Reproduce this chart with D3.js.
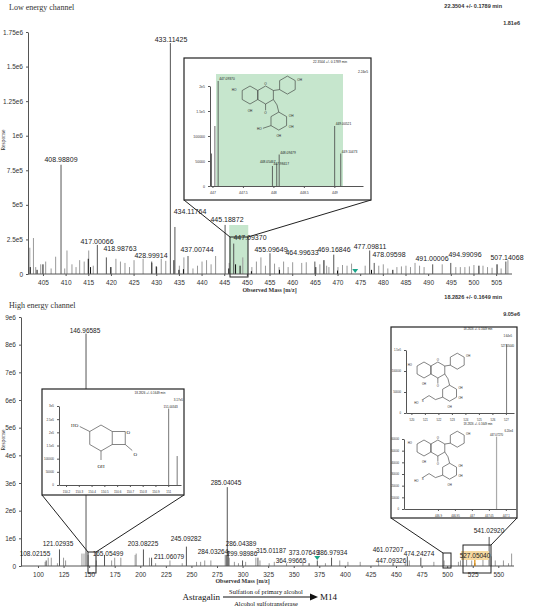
<!DOCTYPE html>
<html><head><meta charset="utf-8">
<script src="https://cdn.jsdelivr.net/npm/d3@7"></script>
<style>body{margin:0;background:#fff}</style>
</head><body><div id="chart"></div>
<script>
// ---- data: low energy channel ----
var lowLabeled = [["408.98809",408.988,7.9e5],["433.11425",433.114,1.67e6],["434.11764",434.118,3.4e5],
  ["445.18872",445.189,3.55e5],["447.09370",447.094,2.2e5],["417.00066",417.001,2.1e5],["418.98763",418.988,1.2e5],
  ["428.99914",428.999,0.9e5],["437.00744",437.007,1.3e5],["455.09649",455.096,1.5e5],["464.99633",464.996,0.9e5],
  ["469.16846",469.168,1.4e5],["477.09811",477.098,1.7e5],["478.09598",478.096,0.8e5],["491.00006",491.000,0.7e5],
  ["494.99096",494.991,0.8e5],["507.14068",507.141,0.9e5]];
var lowLabelPos = [[61,162],[171,42],[190,214],[227,222],[250,240],[97,244],[120,251],[151,258],[197,252],
  [271,252],[302,255],[334,252],[370,249],[389,257],[432,261],[465,257],[507,260]];
var lowGrey = [[402.1,1.9e5],[402.9,2.6e5],[403.4,0.5e5],[404.5,0.7e5],[405.6,0.9e5],[406.8,0.4e5],[407.8,1.25e5],
  [409.8,0.4e5],[410.3,1.7e5],[411.4,0.7e5],[412.3,0.5e5],[413.1,1e5],[414.1,0.9e5],[415.1,1.7e5],[416.1,0.6e5],
  [419.9,0.5e5],[421.1,1.1e5],[422.1,0.9e5],[423.1,0.8e5],[424.1,0.5e5],[425.1,1e5],[427.1,1.1e5],[430.1,0.5e5],
  [431.1,1.1e5],[432.1,0.95e5],[435.1,0.6e5],[436.1,1.2e5],[438.1,0.4e5],[439.1,0.6e5],[440.1,0.9e5],[441.1,1e5],
  [442.1,0.7e5],[443.1,1.3e5],[446.1,0.8e5],[449.1,1.2e5],[451.1,0.5e5],[452.1,0.9e5],[453.1,1.2e5],[454.1,0.6e5],
  [456.1,0.75e5],[457.1,0.5e5],[458.1,0.9e5],[459.1,0.5e5],[460.1,0.85e5],[462.1,0.8e5],[463.1,0.85e5],[466.1,0.7e5],
  [467.6,0.6e5],[468.1,0.5e5],[470.1,0.5e5],[471.1,0.65e5],[472.1,0.6e5],[473.1,0.75e5],[476.1,0.6e5],[479.1,0.6e5],
  [480.1,0.7e5],[481.1,0.4e5],[483.1,0.5e5],[484.1,0.55e5],[485.1,0.6e5],[486.1,0.5e5],[487.1,0.8e5],[488.1,0.6e5],
  [489.1,0.5e5],[493.1,0.7e5],[496.1,0.5e5],[497.1,0.5e5],[498.1,0.5e5],[499.1,0.55e5],[500.1,0.65e5],[502.1,0.6e5],
  [503.1,0.5e5],[504.1,0.45e5],[506.1,0.4e5],[507.6,1e5]];
var lowDark = [[402.2,0.5e5],[403.7,0.3e5],[405,0.7e5],[415,1.1e5],[415.5,0.5e5],[420,0.5e5],[429,0.8e5],[430,0.55e5],
  [433.9,1e5],[435,0.3e5],[436,0.35e5],[446,0.4e5],[447.5,0.7e5],[448.5,0.6e5],[451,0.2e5],[457.2,0.3e5],[465.2,0.5e5],
  [467,1e5],[470,0.25e5],[477.5,0.3e5],[482.2,0.3e5],[501.2,0.6e5],[505.2,0.7e5]];
var lowTicksY = [0,2.5e5,5e5,7.5e5,1e6,1.25e6,1.5e6,1.75e6];
var lowTickLabels = ["0","2.5e5","5e5","7.5e5","1e6","1.25e6","1.5e6","1.75e6"];
var lowTicksX = d3.range(405,510,5);

// low inset
var insA = [[446.985,0.65e5,"#999",""],[447.04,1.2e5,"#999",""],[447.0937,2.1e5,"#444","447.09370"],
  [447.98417,0.4e5,"#444","447.98417"],[448.05467,0.45e5,"#444","448.05467"],[448.09479,0.63e5,"#444","448.09479"],
  [449.00521,1.2e5,"#444","449.00521"],[449.10473,0.65e5,"#444","449.10473"]];
var insATicksX = [447,447.5,448,448.5,449];
var insATicksY = [0,50000,100000,1.5e5,2e5];
var insATickLabels = ["0","50000","100000","1.5e5","2e5"];

// ---- data: high energy channel ----
var hiLabeled = [["146.96585",146.966,8.4e6],["285.04045",285.040,2.85e6],["121.02935",121.029,0.6e6],
  ["108.02155",108.022,0.2e6],["165.05499",165.055,0.4e6],["203.08225",203.082,0.6e6],["245.09282",245.093,0.7e6],
  ["211.06079",211.061,0.3e6],["284.03264",284.033,0.4e6],["286.04389",286.044,0.55e6],["299.98986",299.990,0.2e6],
  ["315.01187",315.012,0.3e6],["373.07649",373.076,0.2e6],["386.97934",386.979,0.3e6],["364.99665",364.997,0.1e6],
  ["447.09326",447.093,0.1e6],["461.07207",461.072,0.35e6],["474.24274",474.243,0.3e6],["527.05040",527.050,0.1e6],
  ["541.02920",541.029,1.05e6]];
var hiLabelPos = [[85,333],[226,485],[58,546],[35,556],[108,556],[143,546],[186,541],[169,559],[213,554],[241,546],
  [242,556],[271,553],[304,555],[332,555],[291,563],[391,563],[388,552],[419,556],[475,558],[489,533]];
var hiGrey = [[107,0.15e6],[110,0.3e6],[113,0.3e6],[119,0.1e6],[125,0.3e6],[127,0.2e6],[143,0.45e6],[145,0.45e6],
  [149,0.4e6],[157,0.2e6],[172,0.2e6],[175,0.3e6],[181,0.3e6],[195,0.4e6],[196,0.45e6],[209,0.3e6],[215,0.1e6],
  [229,0.2e6],[241,0.1e6],[255,0.15e6],[259,0.15e6],[263,0.2e6],[269,0.2e6],[283,0.4e6],[287,0.3e6],[292,0.15e6],
  [296,0.1e6],[303,0.15e6],[313,0.3e6],[317,0.2e6],[326,0.1e6],[331,0.15e6],[343,0.1e6],[359,0.15e6],[381,0.1e6],
  [395,0.2e6],[403,0.15e6],[415,0.15e6],[433,0.1e6],[459,0.1e6],[463,0.2e6],[487,0.15e6],[497,0.2e6],[511,0.15e6],
  [513,0.2e6],[519,0.3e6],[524,0.2e6],[535,0.3e6],[543,0.35e6],[547,0.2e6],[555,0.2e6],[560,0.1e6],[563,0.45e6]];
var hiTicksY = d3.range(0,10e6,1e6);
var hiTickLabels = ["0","1e6","2e6","3e6","4e6","5e6","6e6","7e6","8e6","9e6"];
var hiTicksX = d3.range(100,575,25);

var insB = [[151.00343,2.9e5,"#444","151.00343"],[151.07,1.1e5,"#999",""]];
var insBTicksX = [150.2,150.3,150.4,150.5,150.6,150.7,150.8,150.9,151];
var insBTicksY = [0,50000,100000,1.5e5,2e5,2.5e5,3e5];
var insBTickLabels = ["0","50000","100000","1.5e5","2e5","2.5e5","3e5"];
var insC = [[527.0504,1.64e5,"#444","527.05040"]];
var insCTicksX = [520,521,522,523,524,525,526,527];
var insCTicksY = [0,50000,100000,1.5e5];
var insCTickLabels = ["0","50000","100000","1.5e5"];
var insD = [[447.0727,6.2e4,"#999","447.07270"]];
var insDTicksX = [446.9,446.95,447,447.05,447.1];
var insDTicksY = d3.range(0,70000,10000);

var svg = d3.select("#chart").append("svg").attr("width",550).attr("height",608);
var sans = "Liberation Sans, Arial, sans-serif", serif = "Liberation Serif, Times New Roman, serif";

function txt(g,x,y,s,size,anchor,font,color,weight){
  return g.append("text").attr("x",x).attr("y",y).text(s).attr("font-size",size)
    .attr("text-anchor",anchor||"start").attr("font-family",font||sans).attr("fill",color||"#222")
    .attr("font-weight",weight||"normal");
}
function bars(g,data,x,y,color,w){
  g.selectAll(null).data(data).enter().append("line")
    .attr("x1",d=>x(d[0])).attr("x2",d=>x(d[0])).attr("y1",y(0)).attr("y2",d=>y(d[1]))
    .attr("stroke",color).attr("stroke-width",w||1);
}
function axes(g,x,y,tx,ty,tyl,fs,xfmt){
  var ax = g.append("g").attr("transform","translate(0,"+y(0)+")")
    .call(d3.axisBottom(x).tickValues(tx).tickSize(2).tickSizeOuter(0).tickFormat(xfmt||d3.format("")));
  var ay = g.append("g").attr("transform","translate("+x.range()[0]+",0)")
    .call(d3.axisLeft(y).tickValues(ty).tickSize(2).tickSizeOuter(0).tickFormat((d,i)=>tyl?tyl[i]:d));
  [ax,ay].forEach(a=>{a.selectAll("text").attr("font-size",fs).attr("font-family",sans).attr("fill","#333");
    a.selectAll("line,path").attr("stroke","#555");});
  ax.selectAll("text").attr("dy","0.9em");
}

// ===== low energy panel =====
var xL = d3.scaleLinear().domain([401.7,508.5]).range([28,512]);
var yL = d3.scaleLinear().domain([0,1.75e6]).range([274,32]);
var gL = svg.append("g");
gL.append("rect").attr("x",xL(446.1)).attr("y",225).attr("width",xL(450.3)-xL(446.1)).attr("height",yL(0)-225)
  .attr("fill","#c6e6cd");
bars(gL,lowGrey,xL,yL,"#999");
bars(gL,lowDark,xL,yL,"#111");
bars(gL,lowLabeled.map(d=>[d[1],d[2]]),xL,yL,"#555");
axes(gL,xL,yL,lowTicksX,lowTicksY,lowTickLabels,6.5);
gL.select("g path.domain").attr("d","M28,0H512");
lowLabeled.forEach((d,i)=>{ var p=lowLabelPos[i]; txt(gL,p[0],p[1],d[0],7,"middle"); });
gL.append("path").attr("d","M"+(xL(473.9)-3)+","+(yL(0)-5)+"h6l-3,4z").attr("fill","#1aa58a");
txt(svg,9,10,"Low energy channel",8,"start",serif,"#333");
txt(svg,0,0,"Response",5.5,"middle",serif,"#333").attr("transform","translate(5,140) rotate(-90)");
txt(svg,xL(455),292,"Observed Mass [m/z]",6,"middle",serif,"#333","bold");
txt(svg,502,8,"22.3504 +/- 0.1789 min",5.5,"end",sans,"#333","bold");
txt(svg,520,25,"1.81e6",5.5,"end",sans,"#333","bold");

// zoom box + inset A
gL.append("rect").attr("x",230).attr("y",237).attr("width",18).attr("height",40).attr("fill","none").attr("stroke","#222");
gL.append("path").attr("d","M184,200L230,237M371,200L248,237").attr("stroke","#222").attr("fill","none");
gL.append("rect").attr("x",184).attr("y",58).attr("width",187).attr("height",142).attr("fill","#fff").attr("stroke","#222").attr("stroke-width",1.2);
var xA = d3.scaleLinear().domain([446.96,449.47]).range([210,363]);
var yA = d3.scaleLinear().domain([0,2e5]).range([186,86]);
gL.append("rect").attr("x",216).attr("y",74).attr("width",127).attr("height",112).attr("fill","#c6e6cd");
bars(gL,insA,xA,yA,"#444",0.8);
axes(gL,xA,yA,insATicksX,insATicksY,insATickLabels,3.5);
insA.forEach(d=>{ if(d[3]) txt(gL,xA(d[0])+(d[0]>448&&d[0]<448.07?-9:1),yA(d[1])-1,d[3],3.3,d[0]>448&&d[0]<448.07?"middle":"start"); });
txt(gL,330,63,"22.3504 +/- 0.1789 min",3.3,"middle");
txt(gL,368,73,"2.24e5",3.3,"end");

// ===== high energy panel =====
var xH = d3.scaleLinear().domain([83.4,580]).range([21,529]);
var yH = d3.scaleLinear().domain([0,9e6]).range([566,317]);
var gH = svg.append("g");
bars(gH,hiGrey,xH,yH,"#999");
bars(gH,hiLabeled.map(d=>[d[1],d[2]]),xH,yH,"#555");
axes(gH,xH,yH,hiTicksX,hiTicksY,hiTickLabels,6.5);
gH.select("g path.domain").attr("d","M21,0H514");
hiLabeled.forEach((d,i)=>{
  var p=hiLabelPos[i];
  if(d[0]==="527.05040") gH.append("rect").attr("x",p[0]-14).attr("y",p[1]-7).attr("width",28).attr("height",9).attr("fill","#f7d9a0");
  txt(gH,p[0],p[1],d[0],6.5,"middle");
});
gH.append("path").attr("d","M"+(xH(373)-3)+","+(yH(0)-10)+"h6l-3,4z").attr("fill","#1aa58a");
gH.append("path").attr("d","M"+xH(527.05)+","+yH(0)+"v-6").attr("stroke","#e08a00").attr("stroke-width",1.2);
txt(svg,9,308,"High energy channel",8,"start",serif,"#333");
txt(svg,0,0,"Response",5.5,"middle",serif,"#333").attr("transform","translate(5,440) rotate(-90)");
txt(svg,xH(300),583,"Observed Mass [m/z]",6,"middle",serif,"#333","bold");
txt(svg,502,299,"18.2826 +/- 0.1649 min",5.5,"end",sans,"#333","bold");
txt(svg,520,316,"9.05e6",5.5,"end",sans,"#333","bold");

// inset B
gH.append("rect").attr("x",88).attr("y",552).attr("width",8).attr("height",21).attr("fill","none").attr("stroke","#222");
gH.append("path").attr("d","M42,495L88,552M184,495L96,552").attr("stroke","#222");
gH.append("rect").attr("x",42).attr("y",389).attr("width",142).attr("height",106).attr("fill","#fff").attr("stroke","#222").attr("stroke-width",1.2);
var xB = d3.scaleLinear().domain([150.145,151.1]).range([59,181]);
var yB = d3.scaleLinear().domain([0,3e5]).range([485,406]);
bars(gH,insB,xB,yB,"#555",0.8);
axes(gH,xB,yB,insBTicksX,insBTicksY,insBTickLabels,3);
txt(gH,xB(151.00343)+2,yB(2.9e5)-1,"151.00343",3,"middle");
txt(gH,150,394,"18.2826 +/- 0.1649 min",3,"middle");
txt(gH,183,401,"3.17e5",3,"end");

// inset C / D
gH.append("rect").attr("x",443).attr("y",553).attr("width",8).attr("height",15).attr("fill","none").attr("stroke","#222");
gH.append("rect").attr("x",463).attr("y",545).attr("width",28).attr("height",28).attr("fill","none").attr("stroke","#222");
gH.append("path").attr("d","M391,518L443,553M517,518L491,545").attr("stroke","#222");
gH.append("rect").attr("x",391).attr("y",327).attr("width",126).attr("height",191).attr("fill","#fff").attr("stroke","#222").attr("stroke-width",1.2);
var xC = d3.scaleLinear().domain([519.6,527.6]).range([406,514]);
var yC = d3.scaleLinear().domain([0,1.5e5]).range([413,350]);
bars(gH,insC,xC,yC,"#555",0.8);
axes(gH,xC,yC,insCTicksX,insCTicksY,insCTickLabels,2.8);
txt(gH,xC(527.05)+1,yC(1.64e5)+3,"527.05040",2.8,"middle");
txt(gH,478,330,"18.2826 +/- 0.1649 min",2.8,"middle");
txt(gH,512,337,"1.64e5",2.8,"end");
var xD = d3.scaleLinear().domain([446.8,447.13]).range([404,516]);
var yD = d3.scaleLinear().domain([0,60000]).range([509,439]);
bars(gH,insD,xD,yD,"#aaa",1.2);
axes(gH,xD,yD,insDTicksX,insDTicksY,null,2.8);
txt(gH,xD(447.0727),yD(6.2e4)-1,"447.07270",2.8,"middle");
txt(gH,478,425,"18.2826 +/- 0.1649 min",2.8,"middle");
txt(gH,513,432,"6.20e4",2.8,"end");

// ---- structure sketches ----
function hexPts(cx,cy,r){ return d3.range(6).map(i=>[cx+r*Math.cos(Math.PI/180*(60*i-90)),cy+r*Math.sin(Math.PI/180*(60*i-90))]); }
function poly(g,pts,close){ g.append("path").attr("d",d3.line()(pts)+(close?"Z":"")).attr("fill","none").attr("stroke","#333").attr("stroke-width",0.6); }
function flavonoid(g,cx,cy,r,sulf){
  var s=r*Math.sqrt(3), A=hexPts(cx,cy,r), C=hexPts(cx+s,cy,r);
  poly(g,A,true); poly(g,C,true);
  var b0=C[1], B=hexPts(b0[0]+s*0.9,b0[1]-r*0.6,r); poly(g,[b0,B[4]]); poly(g,B,true);
  var o3=C[2], sug=hexPts(o3[0]+r*0.6,o3[1]+r*2.4,r);
  poly(g,[o3,[o3[0]+r*0.4,o3[1]+r*0.6],sug[0]]); poly(g,sug,true);
  poly(g,[C[3],[C[3][0],C[3][1]+r*0.7]]);
  poly(g,[sug[4],[sug[4][0]-r*0.9,sug[4][1]+r*0.3]]);
  var fs=r*0.35;
  txt(g,A[5][0]-r*0.9,A[5][1],"HO",fs,"middle");
  txt(g,A[3][0],A[3][1]+r*0.9,"OH",fs,"middle");
  txt(g,B[1][0]+r*0.5,B[1][1],"OH",fs,"middle");
  txt(g,C[0][0],C[0][1]-1,"O",fs,"middle");
  txt(g,C[3][0],C[3][1]+r*1.1,"O",fs,"middle");
  txt(g,sug[1][0]+r*0.5,sug[1][1],"OH",fs,"middle");
  txt(g,sug[2][0]+r*0.5,sug[2][1]+2,"OH",fs,"middle");
  txt(g,sug[3][0],sug[3][1]+r*0.8,"OH",fs,"middle");
  if(sulf){ var p=[sug[4][0]-r*0.9,sug[4][1]+r*0.3];
    poly(g,[p,[p[0]-r*0.8,p[1]-r*0.5],[p[0]-r*1.6,p[1]]]);
    txt(g,p[0]-r*1.6,p[1]+2,"S",fs,"middle"); txt(g,p[0]-r*2.4,p[1]+r*0.6,"HO",fs,"middle");
  } else txt(g,sug[4][0]-r*1.3,sug[4][1]+r*0.5,"HO",fs,"middle");
}
flavonoid(gL,250,95,9,false);
flavonoid(gH,424,370,8,true);
flavonoid(gH,424,448,8,true);
// benzo-oxetone sketch in inset B
(function(){ var r=13, H=hexPts(101,438,r); poly(gH,H,true);
  poly(gH,[H[1],[H[1][0]+13,H[1][1]],[H[2][0]+13,H[2][1]],H[2]]);
  poly(gH,[[H[2][0]+13,H[2][1]],[H[2][0]+20,H[2][1]+6]]);
  poly(gH,[H[5],[H[5][0]-10,H[5][1]-5]]); poly(gH,[H[3],[H[3][0],H[3][1]+9]]);
  txt(gH,H[5][0]-15,H[5][1]-5,"HO",5,"middle",serif); txt(gH,H[3][0],H[3][1]+17,"OH",5,"middle",serif);
  txt(gH,H[1][0]+16,H[1][1]+2,"O",5,"middle",serif); txt(gH,H[2][0]+23,H[2][1]+11,"O",5,"middle",serif);
})();

// reaction caption
txt(svg,220,600,"Astragalin",9,"end",serif,"#111");
svg.append("path").attr("d","M223,597H312").attr("stroke","#111").attr("stroke-width",1);
svg.append("path").attr("d","M310,593.5L318,597L310,600.5Z").attr("fill","#111");
txt(svg,266,594,"Sulfation of primary alcohol",6.5,"middle",serif,"#111");
txt(svg,266,606,"Alcohol sulfotransferase",6.5,"middle",serif,"#111");
txt(svg,320,600,"M14",9,"start",serif,"#111");
</script></body></html>
